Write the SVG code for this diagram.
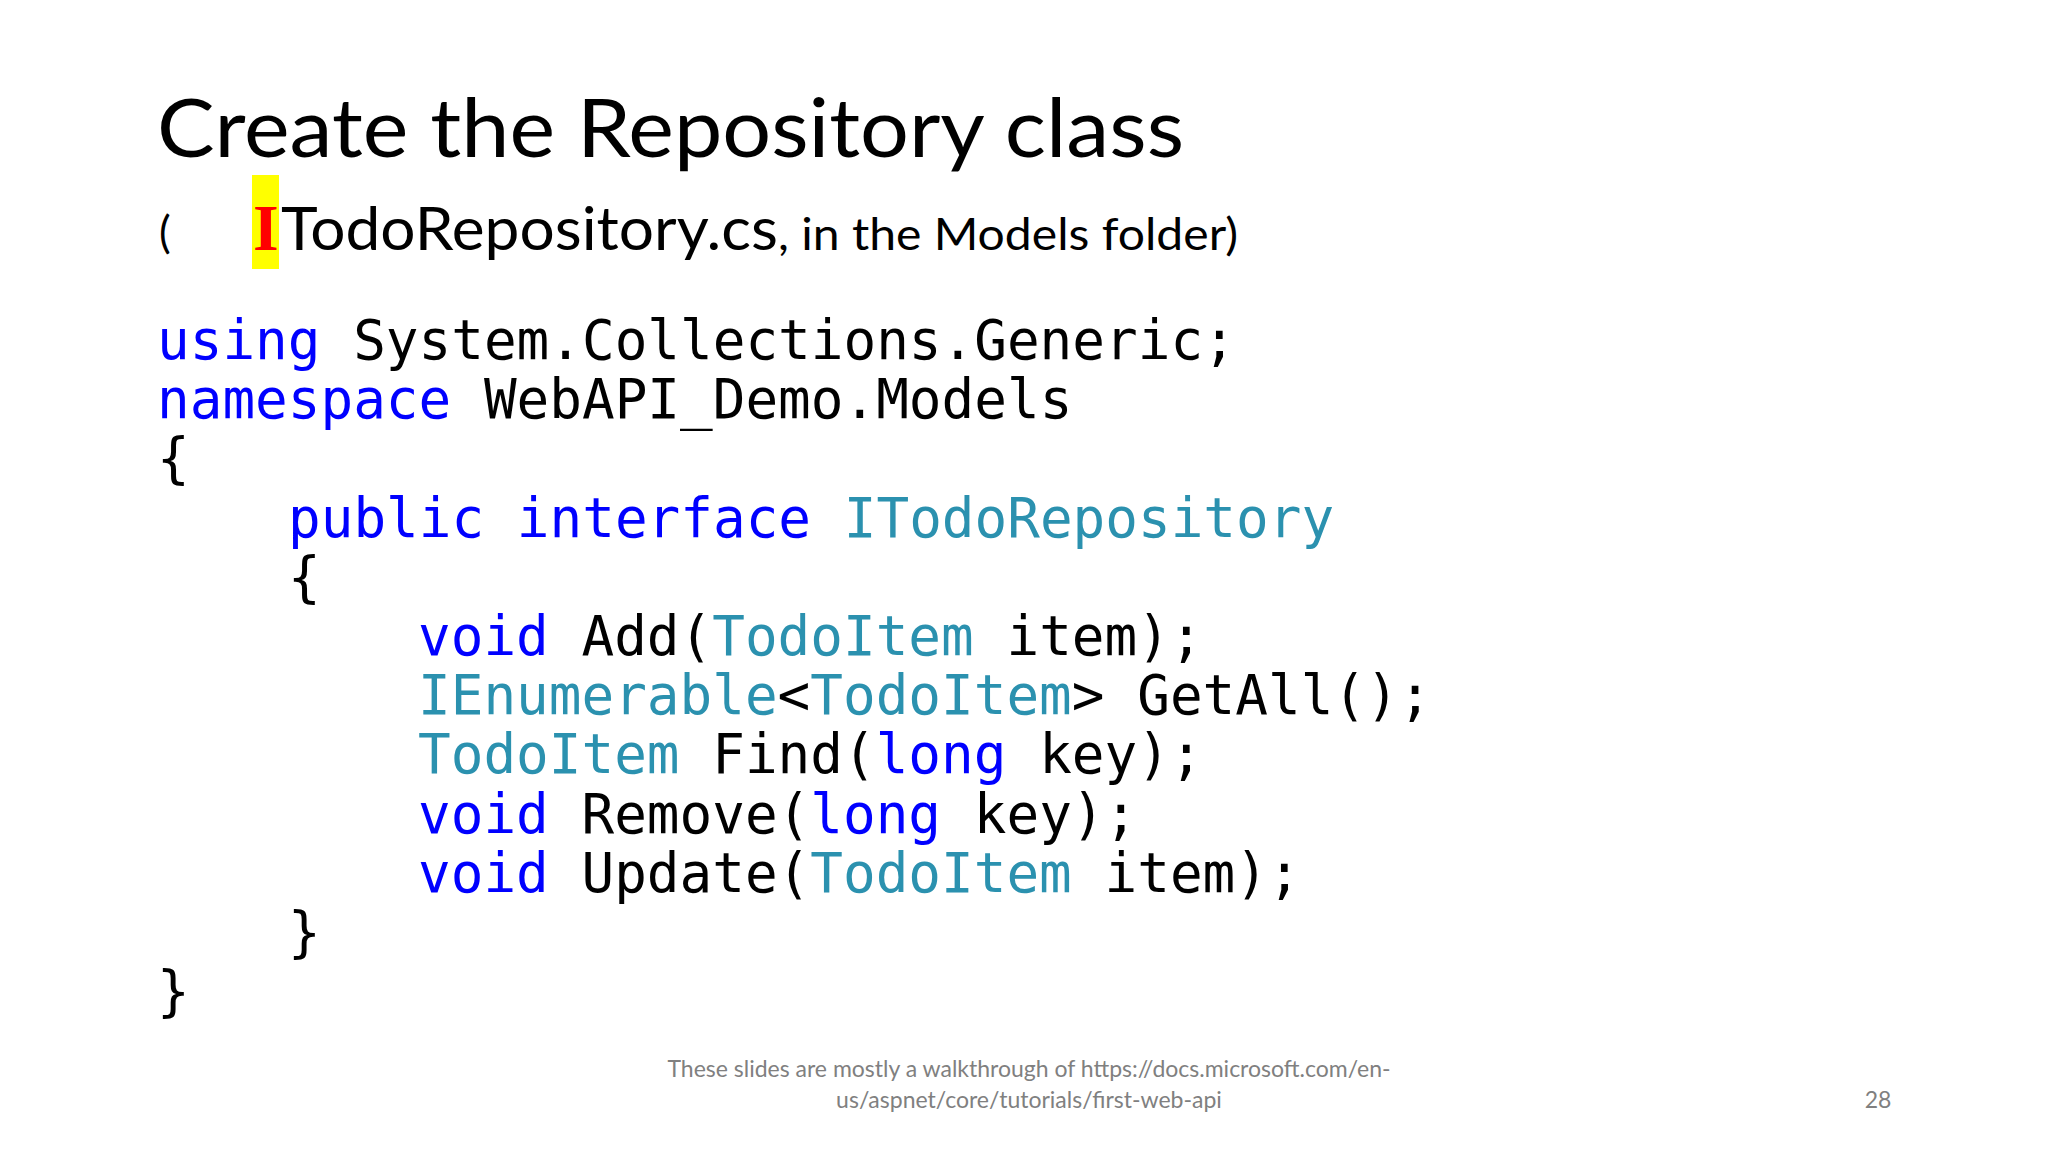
<svg xmlns="http://www.w3.org/2000/svg" width="2048" height="1152" viewBox="0 0 2048 1152">
<style>
.t{font-family:Lato,"Liberation Sans",sans-serif;fill:#000}
.c{font-family:"DejaVu Sans Mono","Liberation Mono",monospace;font-size:54.3px;fill:#000;white-space:pre}
.k{fill:#0000FF}.y{fill:#2B91AF}
.f{font-family:Lato,"Liberation Sans",sans-serif;font-size:23px;fill:#808080}
</style>
<rect width="2048" height="1152" fill="#fff"/>
<text class="t" x="157" y="157" font-size="82" textLength="1027" lengthAdjust="spacingAndGlyphs">Create the Repository class</text>
<text class="t" x="159" y="248" font-size="44">(</text>
<rect x="252" y="175" width="27" height="94" fill="#FFFF00"/>
<text x="253" y="250" font-family="Liberation Serif,serif" font-weight="bold" font-size="66" fill="#FF0000">I</text>
<text class="t" x="281" y="250" font-size="60" textLength="497" lengthAdjust="spacingAndGlyphs">TodoRepository.cs</text>
<text class="t" x="778" y="250" font-size="44" textLength="460" lengthAdjust="spacingAndGlyphs">, in the Models folder)</text>
<g>
<text class="c" x="157" y="359"><tspan class="k">using</tspan> System.Collections.Generic;</text>
<text class="c" x="157" y="418"><tspan class="k">namespace</tspan> WebAPI_Demo.Models</text>
<text class="c" x="157" y="477">{</text>
<text class="c" x="288" y="537"><tspan class="k">public</tspan> <tspan class="k">interface</tspan> <tspan class="y">ITodoRepository</tspan></text>
<text class="c" x="288" y="596">{</text>
<text class="c" x="418" y="655"><tspan class="k">void</tspan> Add(<tspan class="y">TodoItem</tspan> item);</text>
<text class="c" x="418" y="714"><tspan class="y">IEnumerable</tspan>&lt;<tspan class="y">TodoItem</tspan>&gt; GetAll();</text>
<text class="c" x="418" y="773"><tspan class="y">TodoItem</tspan> Find(<tspan class="k">long</tspan> key);</text>
<text class="c" x="418" y="833"><tspan class="k">void</tspan> Remove(<tspan class="k">long</tspan> key);</text>
<text class="c" x="418" y="892"><tspan class="k">void</tspan> Update(<tspan class="y">TodoItem</tspan> item);</text>
<text class="c" x="288" y="951">}</text>
<text class="c" x="157" y="1010">}</text>
</g>
<text class="f" x="1029" y="1077" text-anchor="middle">These slides are mostly a walkthrough of https://docs.microsoft.com/en-</text>
<text class="f" x="1029" y="1108" text-anchor="middle">us/aspnet/core/tutorials/first-web-api</text>
<text class="f" x="1878" y="1108" text-anchor="middle">28</text>
</svg>
